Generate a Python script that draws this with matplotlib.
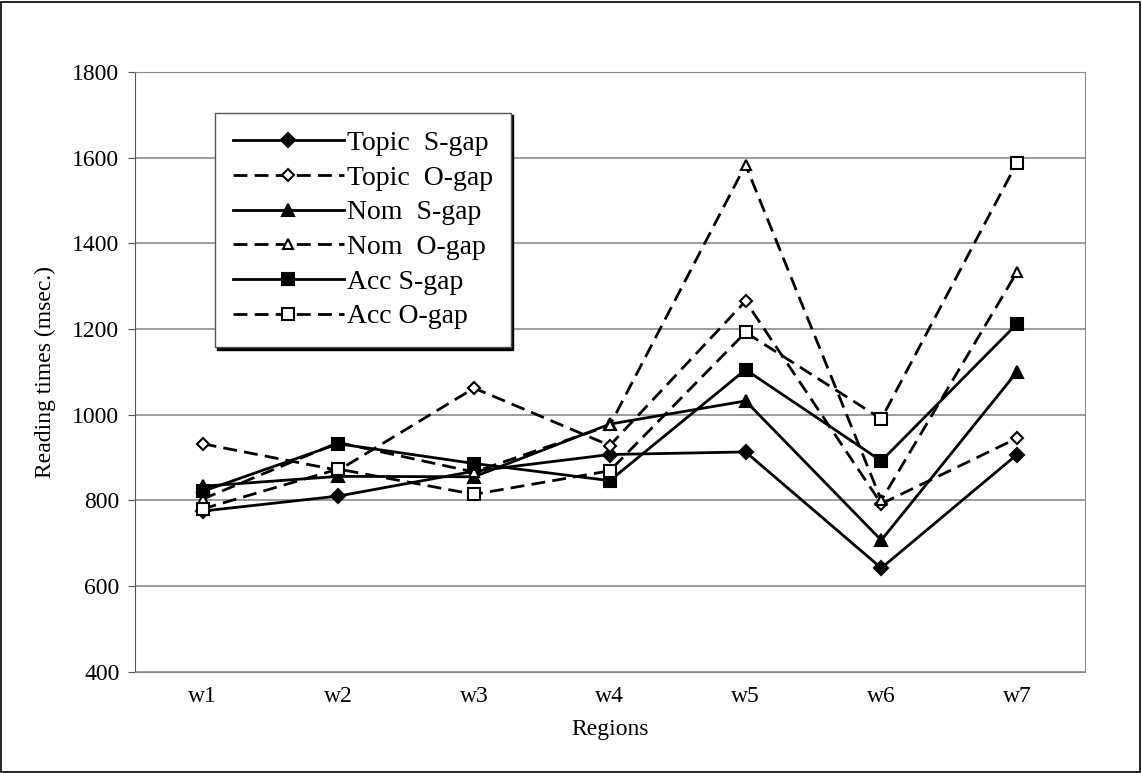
import matplotlib.pyplot as plt
from matplotlib.patches import Rectangle

plt.rcParams['font.family'] = ['Liberation Serif', 'DejaVu Serif']

# Data
regions = ['w1', 'w2', 'w3', 'w4', 'w5', 'w6', 'w7']
topic_s = [775, 810, 868, 907, 913, 642, 907]
topic_o = [932, 870, 1062, 928, 1265, 792, 945]
nom_s = [833, 856, 855, 978, 1032, 707, 1100]
nom_o = [803, 935, 866, 975, 1583, 800, 1333]
acc_s = [821, 932, 886, 846, 1105, 892, 1212]
acc_o = [780, 873, 814, 869, 1192, 990, 1588]

series = [
    ('Topic  S-gap', topic_s, '-', 'D', 'black', 7.5),
    ('Topic  O-gap', topic_o, '--', 'D', 'white', 6),
    ('Nom  S-gap', nom_s, '-', '^', 'black', 9),
    ('Nom  O-gap', nom_o, '--', '^', 'white', 7.5),
    ('Acc S-gap', acc_s, '-', 's', 'black', 8.5),
    ('Acc O-gap', acc_o, '--', 's', 'white', 8.5),
]

fig = plt.figure(figsize=(11.42, 7.73), dpi=100)
ax = fig.add_axes([0.118, 0.131, 0.832, 0.776])

x = list(range(len(regions)))
for label, vals, ls, mk, fc, ms in series:
    style = (0, (5, 2.6)) if ls == '--' else '-'
    ax.plot(x, vals, linestyle=style, color='black', linewidth=2.0,
            marker=mk, markersize=ms, markerfacecolor=fc,
            markeredgecolor='black', markeredgewidth=1.5, label=label)

ax.set_ylim(400, 1800)
ax.set_yticks(range(400, 1801, 200))
ax.set_xlim(-0.5, 6.5)
ax.set_xticks(x)
ax.set_xticklabels(regions)
ax.yaxis.grid(True, color='#8c8c8c', linewidth=1.2)
ax.set_axisbelow(True)

for side in ['top', 'right']:
    ax.spines[side].set_color('#8c8c8c')
ax.spines['left'].set_color('#555555')
ax.spines['bottom'].set_color('#8c8c8c')
ax.tick_params(axis='y', length=5, color='#555555', labelsize=17, pad=6)
ax.tick_params(axis='x', length=0, labelsize=17, pad=10)

ax.set_xlabel('Regions', fontsize=17, labelpad=9)
ax.set_ylabel('Reading times (msec.)', fontsize=17, labelpad=12)

leg = ax.legend(loc='upper left', bbox_to_anchor=(0.084, 0.932), fontsize=20,
                frameon=True, fancybox=False, edgecolor='#555555',
                shadow={'color': 'black', 'alpha': 1.0}, handlelength=4.0,
                handletextpad=0.1, labelspacing=0.33, borderpad=0.65,
                borderaxespad=0)
leg.get_frame().set_linewidth(1.0)

# outer border of the picture
fig.patches.append(Rectangle((0.001, 0.001), 0.997, 0.997, transform=fig.transFigure,
                             fill=False, edgecolor='black', linewidth=1.2))

fig.savefig('out.png', dpi=100)
